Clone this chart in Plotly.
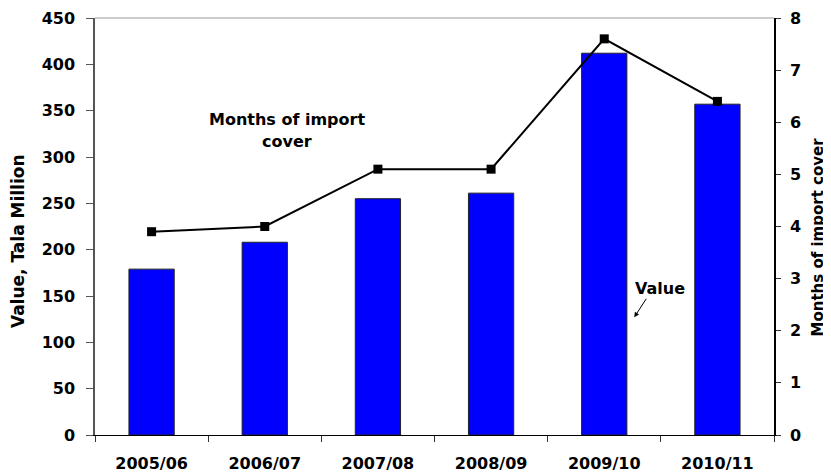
import plotly.graph_objects as go

categories = ["2005/06", "2006/07", "2007/08", "2008/09", "2009/10", "2010/11"]
value_tala_million = [179, 208, 255, 261, 412, 357]
months_import_cover = [3.9, 4.0, 5.1, 5.1, 7.6, 6.4]
left_ticks = [0, 50, 100, 150, 200, 250, 300, 350, 400, 450]
right_ticks = [0, 1, 2, 3, 4, 5, 6, 7, 8]

FONT = "DejaVu Sans, Arial, sans-serif"
bold = dict(family=FONT, size=16, color="black", weight="bold")

fig = go.Figure()
fig.add_trace(go.Bar(
    x=categories, y=value_tala_million, name="Value",
    marker=dict(color="#0000FF", line=dict(color="#222222", width=1)),
    width=0.4, yaxis="y",
))
fig.add_trace(go.Scatter(
    x=categories, y=months_import_cover, name="Months of import cover",
    mode="lines+markers", yaxis="y2",
    line=dict(color="black", width=2),
    marker=dict(symbol="square", size=9, color="black"),
))

fig.update_layout(
    width=823, height=467,
    margin=dict(l=87, r=57, t=10, b=40, autoexpand=False),
    paper_bgcolor="white", plot_bgcolor="white",
    showlegend=False,
    font=dict(family=FONT, color="black"),
    xaxis=dict(
        type="category", tickson="boundaries", ticks="outside", ticklen=6,
        tickcolor="#333333", showline=True, linecolor="black", linewidth=1,
        showgrid=False, tickfont=bold, ticklabelstandoff=14,
    ),
    yaxis=dict(
        range=[0, 450], tickvals=left_ticks, ticks="outside", ticklen=7,
        tickcolor="#555555", showline=True, linecolor="#555555", linewidth=1.5,
        showgrid=False, zeroline=False, tickfont=bold, ticklabelstandoff=8,
        ticklabeloverflow="allow",
    ),
    yaxis2=dict(
        range=[0, 8], tickvals=right_ticks, overlaying="y", side="right",
        ticks="outside", ticklen=5, tickcolor="#333333",
        showline=True, linecolor="black", linewidth=1.5,
        showgrid=False, zeroline=False, tickfont=bold, ticklabelstandoff=6,
        ticklabeloverflow="allow",
    ),
    shapes=[dict(type="line", xref="paper", yref="paper", x0=0, x1=1, y0=1, y1=1,
                 line=dict(color="#999999", width=1))],
    annotations=[
        dict(x=-0.1134, y=0.465, xref="paper", yref="paper", text="Value, Tala Million",
             textangle=-90, showarrow=False, xanchor="center", yanchor="middle",
             font=dict(family=FONT, size=17, weight="bold", color="black")),
        dict(x=1.0648, y=0.476, xref="paper", yref="paper", text="Months of import cover",
             textangle=-90, showarrow=False, xanchor="center", yanchor="middle",
             font=dict(family=FONT, size=15, weight="bold", color="black")),
        dict(x=1.196, y=341, xref="x", yref="y", text="Months of import", showarrow=False,
             font=dict(family=FONT, size=16, weight="bold", color="black")),
        dict(x=1.196, y=317, xref="x", yref="y", text="cover", showarrow=False,
             font=dict(family=FONT, size=16, weight="bold", color="black")),
        dict(x=4.49, y=158, xref="x", yref="y", text="Value", showarrow=False,
             font=dict(family=FONT, size=16, weight="bold", color="black")),
        dict(x=4.265, y=127, xref="x", yref="y", text="", showarrow=True,
             ax=13, ay=-20, arrowhead=2, arrowsize=1, arrowwidth=1, arrowcolor="black"),
    ],
)

fig.write_html("out.html")
